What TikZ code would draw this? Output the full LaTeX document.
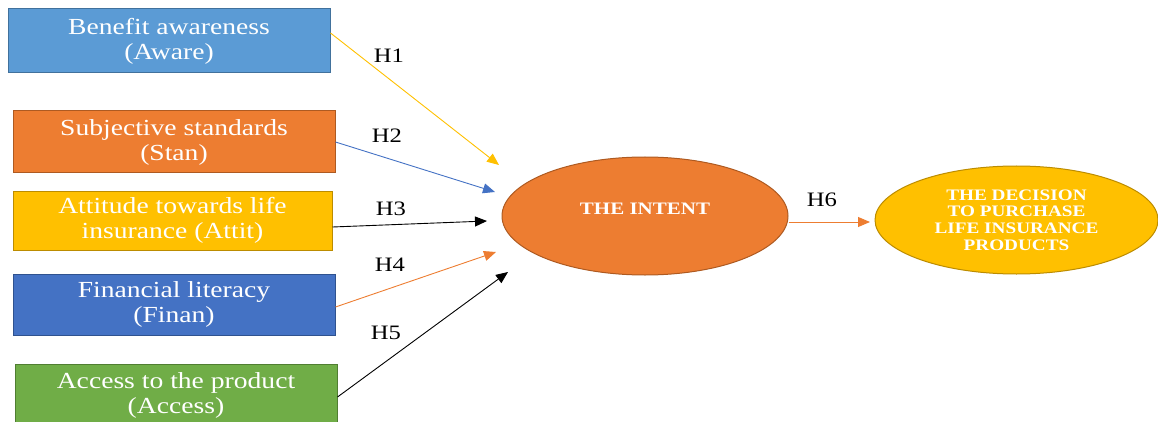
\documentclass[tikz,border=0pt]{standalone}
\usepackage{fontspec}
\setmainfont{Liberation Serif}[FakeStretch=1.2]
\usetikzlibrary{arrows.meta,shapes.geometric}
\definecolor{cBlueL}{HTML}{5B9BD5}\definecolor{cBlueLd}{HTML}{41719C}
\definecolor{cOrange}{HTML}{ED7D31}\definecolor{cOranged}{HTML}{AE5A21}
\definecolor{cGold}{HTML}{FFC000}\definecolor{cGoldd}{HTML}{BC8C00}
\definecolor{cBlue}{HTML}{4472C4}\definecolor{cBlued}{HTML}{2F528F}
\definecolor{cGreen}{HTML}{70AD47}\definecolor{cGreend}{HTML}{507E32}
\tikzset{
  factor/.style={rectangle, draw=#1d, line width=1pt, fill=#1, text=white, align=center, inner sep=0pt, minimum width=322pt,
    font=\fontsize{23}{25}\selectfont},
  hyp/.style={font=\fontsize{20.5}{22}\selectfont, inner sep=0pt},
  link/.style={draw=#1, line width=0.9pt, -{Triangle[length=12pt,width=10pt]}},
  oval/.style={ellipse, draw=#1d, line width=1pt, fill=#1, text=white, align=center, inner sep=0pt}
}
\begin{document}
\begin{tikzpicture}[x=1pt,y=-1pt]
\useasboundingbox (0,0) rectangle (1158,422);
\clip (0,0) rectangle (1158,422);
\node[factor=cBlueL, minimum height=64pt] (aware) at (169,41) {Benefit awareness\\(Aware)};
\node[factor=cOrange, minimum height=62pt] (stan) at (174,142) {Subjective standards\\(Stan)};
\node[factor=cGold, minimum width=319pt, minimum height=59pt] (attit) at (172.5,220.5) {Attitude towards life\\insurance (Attit)};
\node[factor=cBlue, minimum height=61pt] (finan) at (174,304.5) {Financial literacy\\(Finan)};
\node[factor=cGreen, minimum height=62pt] (access) at (176,395) {Access to the product\\(Access)};

\node[oval=cOrange, minimum width=286pt, minimum height=118pt] (intent) at (645,216) {};
\node[text=white, font=\bfseries\fontsize{17.5}{19}\selectfont, inner sep=0pt] (intentlabel) at (645,209) {THE INTENT};
\node[oval=cGold, minimum width=283pt, minimum height=108pt, font=\bfseries\fontsize{16}{16.7}\selectfont] (decision) at (1016.5,220) {THE DECISION\\TO PURCHASE\\LIFE INSURANCE\\PRODUCTS};

\coordinate (e1) at (499,165);
\coordinate (e2) at (495,192);
\coordinate (e3) at (487,221);
\coordinate (e4) at (496,252);
\coordinate (e5) at (508,272);
\coordinate (e6) at (870,222);

\draw[link=cGold] ([yshift=8pt]aware.east) -- (e1);
\draw[link=cBlue] ([yshift=0pt]stan.east) -- (e2);
\draw[link=black] ([yshift=-6.5pt]attit.east) -- (e3);
\draw[link=cOrange] ([yshift=-2.5pt]finan.east) -- (e4);
\draw[link=black] ([yshift=-2pt]access.east) -- (e5);
\draw[link=cOrange] ([yshift=-6pt]intent.east) -- (e6);

\node[hyp] (h1) at (389,56) {H1};
\node[hyp] (h2) at (387,136) {H2};
\node[hyp] (h3) at (391,209) {H3};
\node[hyp] (h4) at (390,265) {H4};
\node[hyp] (h5) at (386,333) {H5};
\node[hyp] (h6) at (822,200) {H6};
\end{tikzpicture}
\end{document}
